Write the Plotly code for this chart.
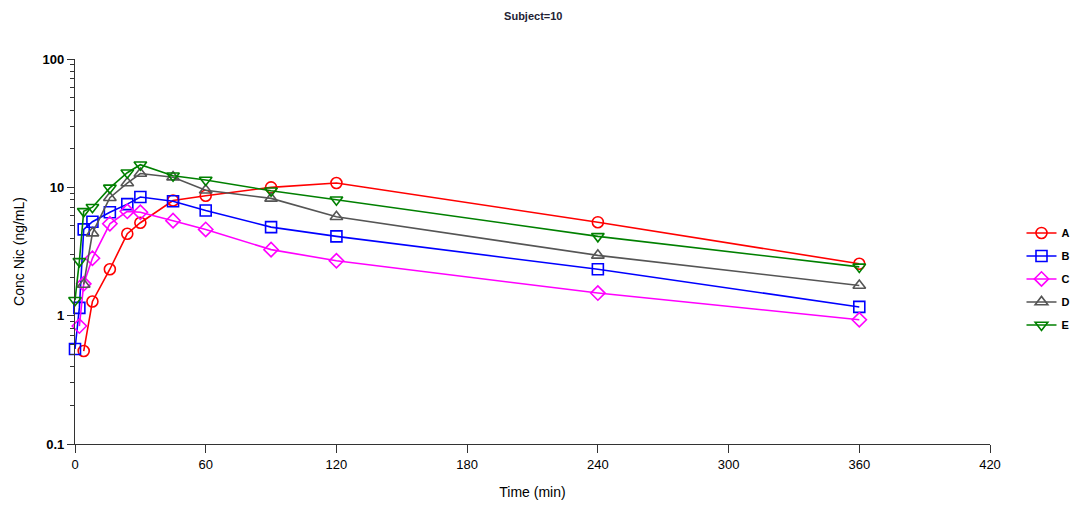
import plotly.graph_objects as go

time = [0, 2, 4, 8, 16, 24, 30, 45, 60, 90, 120, 240, 360]

a_t = [4, 8, 16, 24, 30, 45, 60, 90, 120, 240, 360]
a_v = [0.53, 1.29, 2.3, 4.35, 5.3, 7.9, 8.6, 10.0, 10.8, 5.35, 2.54]

b_t = time
b_v = [0.55, 1.15, 4.7, 5.4, 6.4, 7.4, 8.4, 7.8, 6.6, 4.9, 4.15, 2.3, 1.17]

c_t = [2, 4, 8, 16, 24, 30, 45, 60, 90, 120, 240, 360]
c_v = [0.83, 1.77, 2.8, 5.2, 6.5, 6.4, 5.5, 4.7, 3.27, 2.68, 1.5, 0.93]

d_t = [4, 8, 16, 24, 30, 45, 60, 90, 120, 240, 360]
d_v = [1.75, 4.4, 8.3, 10.8, 12.8, 12.0, 9.5, 8.2, 5.9, 2.95, 1.72]

e_t = time
e_v = [1.32, 2.65, 6.5, 7.0, 9.9, 13.0, 15.0, 12.3, 11.4, 9.4, 8.0, 4.15, 2.4]

series = [
    ("A", a_t, a_v, "#ff0000", "circle-open"),
    ("B", b_t, b_v, "#0000ff", "square-open"),
    ("C", c_t, c_v, "#ff00ff", "diamond-open"),
    ("D", d_t, d_v, "#555555", "triangle-up-open"),
    ("E", e_t, e_v, "#008000", "triangle-down-open"),
]

fig = go.Figure()
for name, t, v, col, sym in series:
    fig.add_trace(go.Scatter(
        x=t, y=v, name=name, mode="lines+markers", legendgroup=name,
        line=dict(color=col, width=1.6),
        marker=dict(symbol=sym, size=11, color=col, line=dict(width=1.6, color=col)),
        cliponaxis=False,
    ))

font = "Liberation Sans Narrow, Liberation Sans, Arial, sans-serif"
fig.update_layout(
    width=1073, height=509,
    margin=dict(l=75, r=83, t=59, b=65, autoexpand=False),
    paper_bgcolor="white", plot_bgcolor="white",
    font=dict(family="Liberation Sans, Arial, sans-serif", size=12, color="#000000"),
    title=dict(text="<b>Subject=10</b>", x=0.497, xanchor="center", y=0.975, yanchor="top",
               font=dict(size=11, family="Liberation Sans, Arial, sans-serif", color="#222233")),
    showlegend=True,
    legend=dict(xref="container", yref="container", x=0.952, xanchor="left", y=0.452, yanchor="middle",
                font=dict(size=11, family="Liberation Sans, Arial, sans-serif", weight="bold"),
                itemwidth=30, tracegroupgap=4, bgcolor="rgba(0,0,0,0)"),
    xaxis=dict(
        range=[0, 420], tickvals=[0, 60, 120, 180, 240, 300, 360, 420],
        ticks="outside", ticklen=8, tickcolor="#333333",
        showline=True, linecolor="#333333", linewidth=1.2, showgrid=False, zeroline=False,
        tickfont=dict(family=font, size=13),
        title=dict(text="Time (min)", font=dict(family=font, size=14), standoff=16),
    ),
    yaxis=dict(
        type="log", range=[-1, 2], tickvals=[0.1, 1, 10, 100], ticktext=["0.1", "1", "10", "100"],
        ticks="outside", ticklen=7, tickcolor="#333333",
        showline=True, linecolor="#333333", linewidth=1.2, showgrid=False, zeroline=False,
        tickfont=dict(family="Liberation Sans, Arial, sans-serif", size=13, weight="bold"),
        minor=dict(ticks="outside", ticklen=4, dtick="D1", tickcolor="#333333", showgrid=False),
        title=dict(text="Conc Nic (ng/mL)", font=dict(size=14), standoff=14),
    ),
)

fig.write_html("out.html")
